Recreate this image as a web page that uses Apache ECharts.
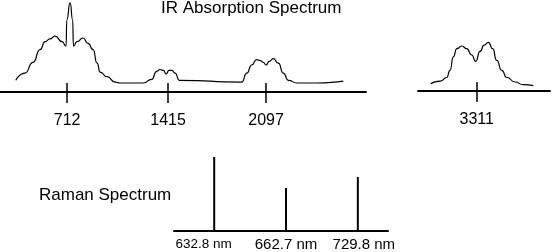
<!DOCTYPE html>
<html>
<head>
<meta charset="utf-8">
<script src="https://cdn.jsdelivr.net/npm/echarts@6/dist/echarts.min.js"></script>
<style>
  html, body { margin: 0; padding: 0; background: #fff; }
  #spectra { width: 553px; height: 252px; }
</style>
</head>
<body>
<div id="spectra"></div>
<script>
// IR absorption, lower range (wavenumber, cm-1) and relative absorbance
const irLowWavenumber = [355, 419, 475, 524, 559, 593, 628, 677, 705, 710, 733, 751, 756, 781, 823, 858,
  893, 921, 942, 990, 1046, 1081, 1127, 1243, 1301, 1336, 1359, 1382, 1401, 1422, 1441, 1464, 1493,
  1928, 1963, 1997, 2032, 2055, 2078, 2097, 2120, 2148, 2183, 2217, 2252, 2311, 2450, 2635];
const irLowAbsorbance = [13, 21, 33, 47, 56, 59, 62, 56, 51, 80, 99, 80, 51, 56, 60, 54,
  47, 32, 22, 17, 11, 10, 10, 10, 14, 23, 25, 24, 20, 24, 24, 21, 13,
  11, 21, 30, 36, 35, 33, 30, 34, 37, 32, 21, 13, 10, 10, 12];
// IR absorption, upper range
const irHighWavenumber = [2991, 3056, 3102, 3125, 3148, 3172, 3207, 3241, 3276, 3304, 3334, 3362,
  3392, 3422, 3450, 3485, 3520, 3578, 3635, 3705];
const irHighAbsorbance = [8, 11, 15, 23, 38, 47, 50, 47, 40, 33, 44, 51, 54, 47, 34, 23, 15, 10, 7, 6];
const irLowTicks = [712, 1415, 2097];
const irHighTicks = [3311];

// Raman lines
const ramanLabels = ['632.8 nm', '662.7 nm', '729.8 nm'];
const ramanIntensity = [100, 58, 73];

const font = '"Liberation Sans", Arial, Helvetica, sans-serif';
const ink = '#000';

function pairs(xs, ys) {
  return xs.map((x, i) => [x, ys[i]]);
}

function mainAxis(grid, min, max, ticks) {
  return {
    gridIndex: grid, type: 'value', min: min, max: max,
    axisLine: { lineStyle: { color: ink, width: 2 } },
    axisTick: { show: true, customValues: ticks, length: 11, lineStyle: { color: ink, width: 1.5 } },
    axisLabel: {
      customValues: ticks, margin: 21, fontSize: 16, color: ink, fontFamily: font,
      formatter: v => String(v)
    },
    splitLine: { show: false }
  };
}
// second axis on the same grid draws the upper half of each tick
function innerTicks(grid, min, max, ticks) {
  return {
    gridIndex: grid, type: 'value', min: min, max: max, position: 'bottom',
    axisLine: { show: false },
    axisTick: { show: true, inside: true, customValues: ticks, length: 9, lineStyle: { color: ink, width: 1.5 } },
    axisLabel: { show: false },
    splitLine: { show: false }
  };
}

const chart = echarts.init(document.getElementById('spectra'));
chart.setOption({
  animation: false,
  title: [
    { text: 'IR Absorption Spectrum', left: 161, top: 0, padding: 0,
      textStyle: { fontSize: 17, fontWeight: 'normal', color: ink, fontFamily: font } },
    { text: 'Raman Spectrum', left: 39, top: 187, padding: 0,
      textStyle: { fontSize: 17, fontWeight: 'normal', color: ink, fontFamily: font } }
  ],
  grid: [
    { left: 0, top: 2, width: 366, height: 90 },
    { left: 418, top: 1, width: 132, height: 90 },
    { left: 174, top: 157, width: 214, height: 76 }
  ],
  xAxis: [
    mainAxis(0, 245, 2793, irLowTicks),
    innerTicks(0, 245, 2793, irLowTicks),
    mainAxis(1, 2902, 3821, irHighTicks),
    innerTicks(1, 2902, 3821, irHighTicks),
    {
      gridIndex: 2, type: 'value', min: -0.56, max: 2.42,
      axisLine: { lineStyle: { color: ink, width: 2 } },
      axisTick: { show: false },
      axisLabel: {
        customValues: [0, 1, 2], margin: 6, color: ink, fontFamily: font,
        formatter: v => '{' + ['a', 'b', 'c'][v] + '|' + ramanLabels[v] + '}',
        rich: {
          a: { fontSize: 13.5, fontFamily: font, color: ink, padding: [0, 21, 0, 0] },
          b: { fontSize: 15, fontFamily: font, color: ink },
          c: { fontSize: 15, fontFamily: font, color: ink, padding: [0, 0, 0, 12] }
        }
      },
      splitLine: { show: false }
    }
  ],
  yAxis: [
    { gridIndex: 0, type: 'value', min: 0, max: 100, show: false },
    { gridIndex: 1, type: 'value', min: 0, max: 100, show: false },
    { gridIndex: 2, type: 'value', min: 0, max: 100, show: false }
  ],
  series: [
    {
      type: 'line', xAxisIndex: 0, yAxisIndex: 0,
      data: pairs(irLowWavenumber, irLowAbsorbance),
      showSymbol: false, smooth: 0.6, smoothMonotone: 'x',
      lineStyle: { color: ink, width: 1.2 }
    },
    {
      type: 'line', xAxisIndex: 2, yAxisIndex: 1,
      data: pairs(irHighWavenumber, irHighAbsorbance),
      showSymbol: false, smooth: 0.6, smoothMonotone: 'x',
      lineStyle: { color: ink, width: 1.2 }
    },
    {
      type: 'bar', xAxisIndex: 4, yAxisIndex: 2,
      data: ramanIntensity.map((v, i) => [i, v]),
      barWidth: 2,
      itemStyle: { color: ink }
    }
  ]
});
</script>
</body>
</html>
